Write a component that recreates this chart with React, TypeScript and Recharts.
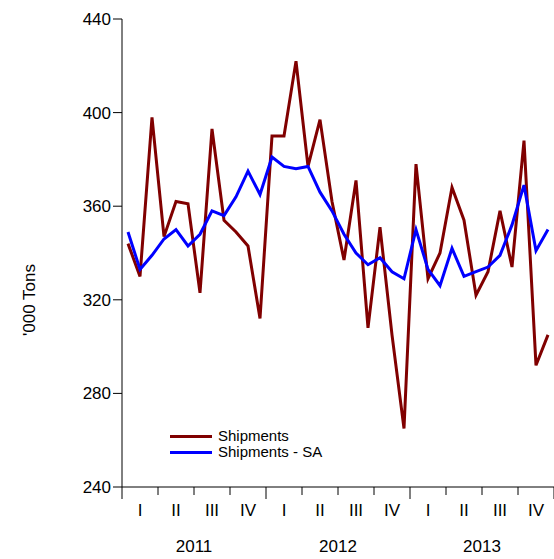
import { LineChart, Line, XAxis, YAxis } from "recharts";

const shipments = [344, 330, 398, 347, 362, 361, 323, 393, 354, 349, 343, 312, 390, 390, 422, 377, 397, 362, 337, 371, 308, 351, 305, 265, 378, 329, 340, 368, 354, 322, 332, 358, 334, 388, 292, 305];
const shipmentsSA = [349, 333, 339, 346, 350, 343, 348, 358, 356, 364, 375, 365, 381, 377, 376, 377, 366, 358, 348, 340, 335, 338, 332, 329, 350, 333, 326, 342, 330, 332, 334, 339, 352, 369, 341, 350];
const quarters = ["I", "II", "III", "IV"];
const years = ["2011", "2012", "2013"];
const yTicks = [240, 280, 320, 360, 400, 440];
const seriesNames = ["Shipments", "Shipments - SA"];
const seriesColors = ["#800000", "#0000ff"];

const data = shipments.map((v, i) => ({ t: i + 0.5, s: v, sa: shipmentsSA[i] }));
const xTicks = Array.from({ length: 13 }, (_, i) => i * 3);

const LEFT = 122;
const RIGHT = 554;
const monthPx = (RIGHT - LEFT) / 36;

function QuarterTick(props: any) {
  const { x, y, payload } = props;
  const v = payload.value as number;
  const isYear = v % 12 === 0;
  return (
    <g>
      <line x1={x} x2={x} y1={y - 8} y2={y + (isYear ? 4 : 0)} stroke="#000" />
      {v < 36 && (
        <text x={x + monthPx * 1.5} y={y + 21} textAnchor="middle" fontSize={17} fill="#000">
          {quarters[(v / 3) % 4]}
        </text>
      )}
      {v % 12 === 0 && v < 36 && (
        <text x={x + monthPx * 6} y={y + 57} textAnchor="middle" fontSize={17} fill="#000">
          {years[v / 12]}
        </text>
      )}
    </g>
  );
}

export default function App() {
  return (
    <div style={{ position: "absolute", left: 0, top: 0, width: 554, height: 559, fontFamily: "Liberation Sans, Arial, sans-serif" }}>
      <LineChart width={554} height={559} data={data} margin={{ top: 19, right: 0, bottom: 0, left: 62 }}>
        <XAxis
          type="number"
          dataKey="t"
          domain={[0, 36]}
          ticks={xTicks}
          tick={<QuarterTick />}
          tickLine={false}
          axisLine={{ stroke: "#000" }}
          height={72}
          interval={0}
        />
        <YAxis
          domain={[240, 440]}
          ticks={yTicks}
          width={60}
          tickSize={9}
          tickLine={{ stroke: "#000" }}
          axisLine={{ stroke: "#000" }}
          tick={{ fontSize: 17, fill: "#000" }}
        />
        <Line dataKey="s" stroke={seriesColors[0]} strokeWidth={3} dot={false} isAnimationActive={false} />
        <Line dataKey="sa" stroke={seriesColors[1]} strokeWidth={3} dot={false} isAnimationActive={false} />
      </LineChart>
      <div style={{ position: "absolute", left: 30, top: 300, transform: "translate(-50%, -50%) rotate(-90deg)", fontSize: 17, whiteSpace: "nowrap" }}>
        '000 Tons
      </div>
      <div style={{ position: "absolute", left: 170, top: 428, fontSize: 15, lineHeight: "16px" }}>
        {seriesNames.map((n, i) => (
          <div key={n} style={{ display: "flex", alignItems: "center" }}>
            <span style={{ display: "inline-block", width: 42, height: 3, background: seriesColors[i], marginRight: 6 }} />
            {n}
          </div>
        ))}
      </div>
    </div>
  );
}
